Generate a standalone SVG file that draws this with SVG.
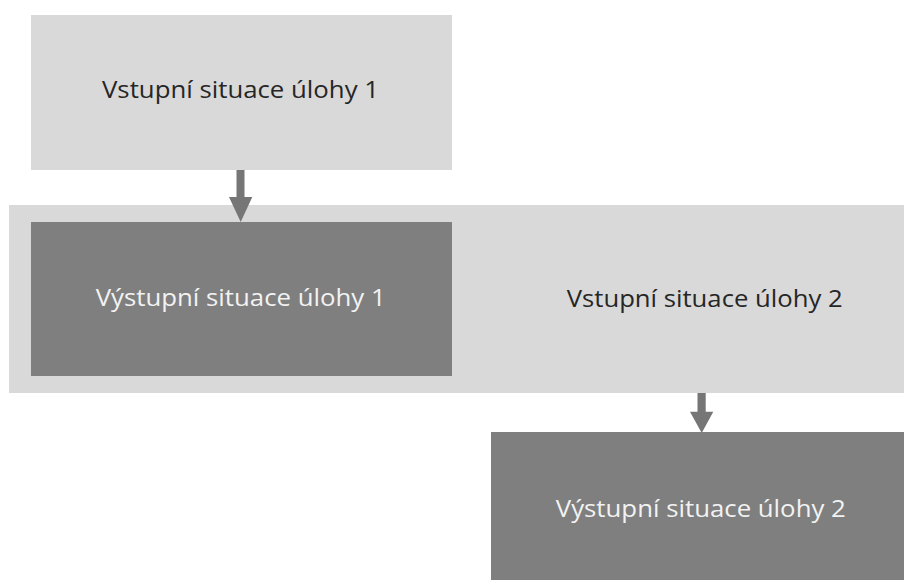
<svg xmlns="http://www.w3.org/2000/svg" width="904" height="580" viewBox="0 0 904 580">
<style>
.light{fill:#d9d9d9}
.dark{fill:#7f7f7f}
.arrow{fill:#767676}
text{font-family:"Open Sans","Noto Sans","Liberation Sans",sans-serif;font-size:23px;text-anchor:middle}
.tdark{fill:#262626}
.tlight{fill:#f2f2f2}
</style>
<rect width="904" height="580" fill="#ffffff"/>
<g id="vstup1">
<rect class="light" x="31" y="15" width="421" height="155"/>
<text class="tdark" x="240.5" y="98" textLength="277" lengthAdjust="spacingAndGlyphs">Vstupní situace úlohy 1</text>
</g>
<g id="vstup2">
<rect class="light" x="9" y="205" width="905" height="188"/>
<text class="tdark" x="704.7" y="307" textLength="276" lengthAdjust="spacingAndGlyphs">Vstupní situace úlohy 2</text>
</g>
<g id="vystup1">
<rect class="dark" x="31" y="222" width="421" height="154"/>
<text class="tlight" x="240.7" y="306" textLength="290" lengthAdjust="spacingAndGlyphs">Výstupní situace úlohy 1</text>
</g>
<g id="vystup2">
<rect class="dark" x="491" y="432" width="421" height="155"/>
<text class="tlight" x="700.8" y="517" textLength="290" lengthAdjust="spacingAndGlyphs">Výstupní situace úlohy 2</text>
</g>
<g id="connectors">
<polygon class="arrow" points="236.5,170 244.5,170 244.5,197 252.3,197 240.7,222 229,197 236.5,197"/>
<polygon class="arrow" points="697.5,393 705.7,393 705.7,411.7 713.3,411.7 701.7,433 690,411.7 697.5,411.7"/>
</g>
</svg>
